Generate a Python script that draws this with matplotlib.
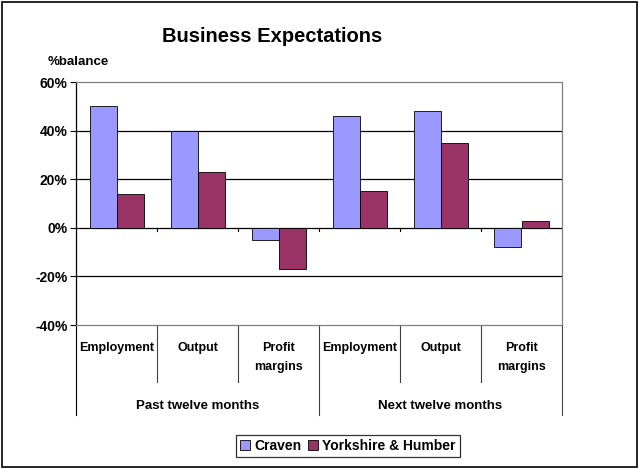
import numpy as np
import matplotlib.pyplot as plt
from matplotlib.patches import Rectangle
from matplotlib.ticker import MultipleLocator, FuncFormatter
import matplotlib.transforms as mtransforms

plt.rcParams['font.family'] = ['Liberation Sans', 'DejaVu Sans']
plt.rcParams['font.weight'] = 'bold'

# ---------------- data ----------------
groups = ['Past twelve months', 'Next twelve months']
categories = ['Employment', 'Output', 'Profit\nmargins',
              'Employment', 'Output', 'Profit\nmargins']
craven = [50, 40, -5, 46, 48, -8]
yorkshire = [14, 23, -17, 15, 35, 3]
series_names = ['Craven', 'Yorkshire & Humber']
yticks = [-40, -20, 0, 20, 40, 60]

col_craven = '#9999FF'
col_yorks = '#993366'

# ---------------- figure ----------------
W, H = 639, 469
fig = plt.figure(figsize=(W / 100, H / 100), dpi=100)

# plot area in pixels: x 76..562, y 82..325
px0, px1, py0, py1 = 76, 562, 82, 325
ax = fig.add_axes([px0 / W, 1 - py1 / H, (px1 - px0) / W, (py1 - py0) / H])

x = np.arange(len(categories))
bw = 1 / 3
ax.bar(x - bw / 2, craven, width=bw, color=col_craven, edgecolor='black',
       linewidth=0.6, zorder=3, label=series_names[0])
ax.bar(x + bw / 2, yorkshire, width=bw, color=col_yorks, edgecolor='black',
       linewidth=0.6, zorder=3, label=series_names[1])

ax.set_xlim(-0.5, len(categories) - 0.5)
ax.set_ylim(yticks[0], yticks[-1])
ax.yaxis.set_major_locator(MultipleLocator(20))
ax.yaxis.set_major_formatter(FuncFormatter(lambda v, p: f'{v:.0f}%'))
ax.tick_params(axis='y', which='major', direction='out', length=4, width=0.8,
               labelsize=10, pad=2)
ax.set_xticks([])

# gridlines (black, like Excel)
for yv in yticks[1:-1]:
    ax.axhline(yv, color='black', linewidth=0.9, zorder=1)

for side in ['top', 'right', 'bottom']:
    ax.spines[side].set_color('#808080')
    ax.spines[side].set_linewidth(0.9)
ax.spines['left'].set_color('black')
ax.spines['left'].set_linewidth(0.9)

# small tick marks on the 0% category axis line
for b in np.arange(0.5, len(categories), 1.0):
    ax.plot([b, b], [0, -1.3], color='black', linewidth=0.8, zorder=2)

# category and group labels below the plot area
trans = mtransforms.blended_transform_factory(ax.transData, ax.transAxes)
h_ax = py1 - py0

def yfrac(ypix):
    return (py1 - ypix) / h_ax

for i, lab in enumerate(categories):
    ax.text(i, yfrac(342), lab, transform=trans, ha='center', va='top',
            fontsize=9, linespacing=1.75)

for g, name in enumerate(groups):
    ax.text(g * 3 + 1, yfrac(406), name, transform=trans, ha='center',
            va='center', fontsize=9.5)

# separator lines
for b in np.arange(-0.5, len(categories), 1.0):
    major = abs((b + 0.5) % 3) < 1e-9
    yend = yfrac(415) if major else yfrac(382)
    ax.plot([b, b], [0, yend], transform=trans, clip_on=False,
            color='black' if b < 0 else '#404040', linewidth=0.8)

# titles
fig.text(272 / W, 1 - 36 / H, 'Business Expectations', ha='center',
         va='center', fontsize=14.5, fontweight='bold')
fig.text(48 / W, 1 - 62 / H, '%balance', ha='left', va='center',
         fontsize=9.5)

# legend
leg = fig.legend(loc='center', bbox_to_anchor=(348 / W, 1 - 446 / H),
                 ncol=2, fontsize=10, frameon=True, fancybox=False,
                 handlelength=0.7, handleheight=0.7, handletextpad=0.3,
                 columnspacing=0.5, borderpad=0.3, borderaxespad=0)
leg.get_frame().set_edgecolor('black')
leg.get_frame().set_linewidth(0.9)

# outer chart border
fig.patches.append(Rectangle((2 / W, 2 / H), (W - 4) / W, (H - 4) / H,
                             transform=fig.transFigure, fill=False,
                             edgecolor='black', linewidth=1.2))

fig.savefig('out.png', dpi=100)
